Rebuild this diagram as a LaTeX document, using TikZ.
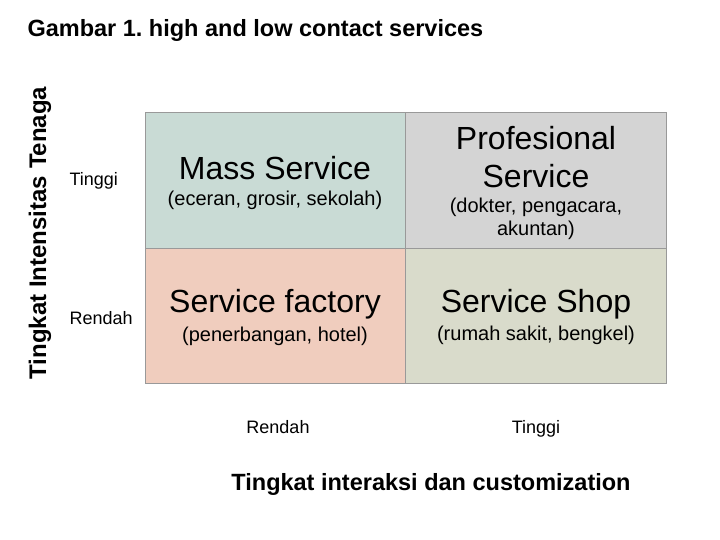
\documentclass[tikz,border=0pt]{standalone}
\usepackage{fontspec}
\setmainfont{Liberation Sans}
\frenchspacing
\definecolor{cA}{HTML}{C9DBD5}
\definecolor{cB}{HTML}{D4D4D4}
\definecolor{cC}{HTML}{F0CDBE}
\definecolor{cD}{HTML}{D9DBCB}
\tikzset{cell/.style={draw=black!40,line width=0.8pt},
 big/.style={font=\fontsize{32}{38}\selectfont,align=center},
 small/.style={font=\fontsize{20}{23}\selectfont,align=center},
 lab/.style={font=\fontsize{18}{22}\selectfont}}
\begin{document}
\begin{tikzpicture}[x=1pt,y=-1pt]
\useasboundingbox (0,0) rectangle (720,540);
\fill[white] (0,0) rectangle (720,540);
\node[anchor=west,font=\bfseries\fontsize{23.5}{27}\selectfont] (title) at (24,30) {Gambar 1. high and low contact services};
\node[rotate=90,font=\bfseries\fontsize{24}{28}\selectfont] (yl) at (40,233) {Tingkat Intensitas Tenaga};
\path[cell,fill=cA] (145,112) rectangle (405,248);
\path[cell,fill=cB] (405,112) rectangle (666,248);
\path[cell,fill=cC] (145,248) rectangle (405,383);
\path[cell,fill=cD] (405,248) rectangle (666,383);
\node[lab,anchor=west] (t1) at (66,181) {Tinggi};
\node[lab,anchor=west] (r1) at (66,318) {Rendah};
\node[big] (ms) at (275,168) {Mass Service};
\node[small] (ms2) at (275,200) {(eceran, grosir, sekolah)};
\node[big] (ps) at (536,157) {Profesional\\Service};
\node[small] (ps2) at (536,219) {(dokter, pengacara,\\akuntan)};
\node[big] (sf) at (275,304) {Service factory};
\node[small] (sf2) at (275,336) {(penerbangan, hotel)};
\node[big] (ss) at (536,304) {Service Shop};
\node[small] (ss2) at (536,335) {(rumah sakit, bengkel)};
\node[lab,anchor=base] (r2) at (278,433) {Rendah};
\node[lab,anchor=base] (t2) at (536,433) {Tinggi};
\node[font=\bfseries\fontsize{23.5}{27}\selectfont,anchor=base] (xl) at (431,490) {Tingkat interaksi dan customization};
\end{tikzpicture}
\end{document}
